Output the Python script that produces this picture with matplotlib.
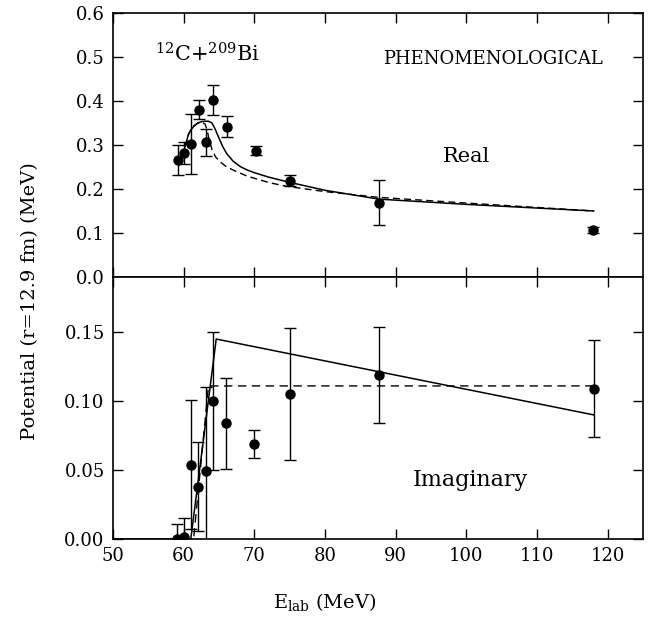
import numpy as np
import matplotlib.pyplot as plt
from matplotlib.ticker import FormatStrFormatter, MultipleLocator

plt.rcParams['font.family'] = 'DejaVu Serif'
plt.rcParams['mathtext.fontset'] = 'dejavuserif'

# measured real part of the potential at r = 12.9 fm
real_e = [59.2, 60.1, 61.1, 62.1, 63.2, 64.2, 66.1, 70.2, 75.1, 87.6, 117.9]
real_v = [0.266, 0.282, 0.302, 0.380, 0.306, 0.402, 0.342, 0.287, 0.219, 0.169, 0.106]
real_err = [0.034, 0.025, 0.068, 0.022, 0.031, 0.034, 0.023, 0.010, 0.012, 0.051, 0.007]

# measured imaginary part
imag_e = [59.1, 60.0, 61.0, 62.0, 63.1, 64.1, 66.0, 70.0, 75.0, 87.6, 118.1]
imag_v = [0.000, 0.0015, 0.054, 0.038, 0.049, 0.100, 0.084, 0.069, 0.105, 0.119, 0.109]
imag_err = [0.011, 0.0137, 0.047, 0.032, 0.061, 0.050, 0.033, 0.010, 0.048, 0.035, 0.035]

# phenomenological fits (solid and dashed)
real_fit_e = [60.2, 60.65, 61.0, 61.5, 62.0, 62.5, 63.0, 63.5, 64.0, 64.4, 64.9,
              65.5, 66.1, 67.0, 68.0, 69.0, 70.0, 72.0, 75.0, 80.0, 87.6, 100.0, 118.0]
real_fit_v = [0.296, 0.323, 0.334, 0.344, 0.350, 0.353, 0.354, 0.354, 0.350, 0.338, 0.319,
              0.297, 0.280, 0.263, 0.251, 0.243, 0.237, 0.227, 0.215, 0.197, 0.177, 0.165, 0.150]
real_dash_e = [60.2, 60.65, 61.0, 61.5, 62.0, 62.5, 63.0, 63.3, 63.6, 64.0, 64.5, 65.2,
               66.0, 67.0, 69.0, 72.2, 74.6, 80.0, 87.6, 100.0, 118.0]
real_dash_v = [0.296, 0.323, 0.334, 0.344, 0.350, 0.352, 0.348, 0.335, 0.312, 0.290, 0.273, 0.261,
               0.251, 0.243, 0.229, 0.214, 0.206, 0.194, 0.181, 0.168, 0.150]

imag_fit_e = [50.0, 61.0, 64.6, 118.0]
imag_fit_v = [0.0, 0.0, 0.145, 0.090]
imag_dash_e = [50.0, 61.4, 63.5, 118.0]
imag_dash_v = [0.0, 0.0, 0.111, 0.111]

fig = plt.figure(figsize=(6.57, 6.22), dpi=100)
ax1 = fig.add_axes([0.172, 0.5547, 0.807, 0.4244])
ax2 = fig.add_axes([0.172, 0.1334, 0.807, 0.4213])

err_style = dict(fmt='o', color='black', ms=6.5, capsize=4, elinewidth=1, capthick=1)

ax1.plot(real_fit_e, real_fit_v, color='black', lw=1.1)
ax1.plot(real_dash_e, real_dash_v, color='black', lw=1, dashes=(5, 3))
ax1.errorbar(real_e, real_v, yerr=real_err, **err_style)

ax2.plot(imag_fit_e, imag_fit_v, color='black', lw=1.1)
ax2.plot(imag_dash_e, imag_dash_v, color='black', lw=1, dashes=(6, 4))
ax2.errorbar(imag_e, imag_v, yerr=imag_err, **err_style)

for ax in (ax1, ax2):
    ax.set_xlim(50, 125)
    ax.xaxis.set_major_locator(MultipleLocator(10))
    ax.tick_params(direction='in', length=7, width=1, top=True, right=True,
                   labelsize=13, pad=6)
    for s in ax.spines.values():
        s.set_linewidth(1.2)

ax1.set_ylim(0, 0.6)
ax1.yaxis.set_major_locator(MultipleLocator(0.1))
ax1.yaxis.set_major_formatter(FormatStrFormatter('%.1f'))
ax1.tick_params(labelbottom=False)

ax2.set_ylim(0, 0.19)
ax2.set_yticks([0.0, 0.05, 0.10, 0.15])
ax2.yaxis.set_major_formatter(FormatStrFormatter('%.2f'))

ax1.text(55.9, 0.489, r'$^{12}$C+$^{209}$Bi', fontsize=15)
ax1.text(88.2, 0.496, 'PHENOMENOLOGICAL', fontsize=13, va='center')
ax1.text(100, 0.273, 'Real', fontsize=15, ha='center', va='center')
ax2.text(100.5, 0.0426, 'Imaginary', fontsize=16, ha='center', va='center')

fig.text(0.046, 0.516, 'Potential (r=12.9 fm) (MeV)', rotation=90,
         fontsize=14, ha='center', va='center')
ax2.set_xlabel(r'E$_{\rm lab}$ (MeV)', fontsize=14)
ax2.xaxis.set_label_coords(0.40, -0.2)

fig.savefig('out.png', dpi=100)
